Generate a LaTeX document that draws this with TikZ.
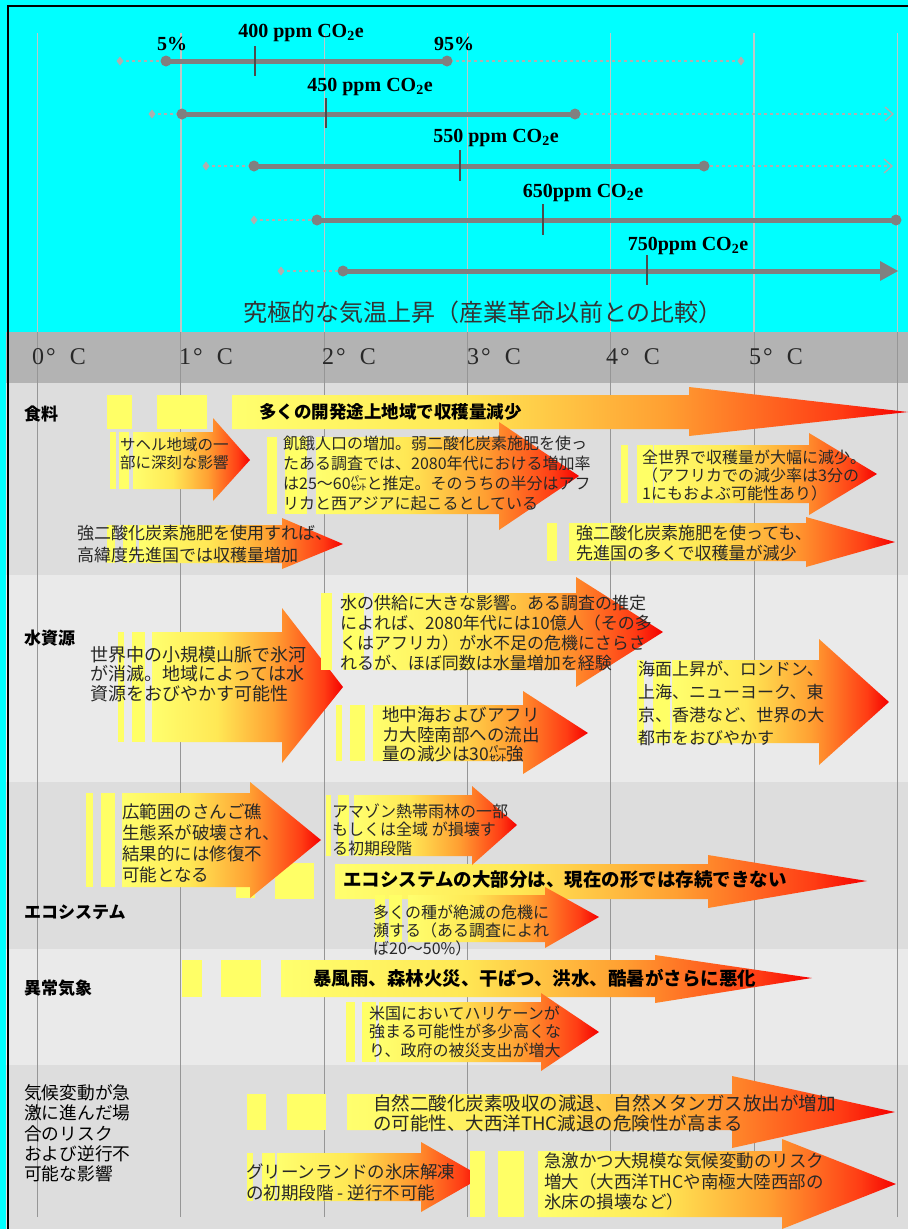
\documentclass[tikz,border=0pt]{standalone}
\usepackage{fontspec}
\setmainfont{Liberation Serif}
\newfontfamily\jp{Noto Sans CJK JP}
\definecolor{cy}{RGB}{0,255,255}
\definecolor{hdr}{RGB}{179,179,179}
\definecolor{secA}{RGB}{221,221,221}
\definecolor{secB}{RGB}{234,234,234}
\definecolor{gridT}{RGB}{190,200,200}
\definecolor{gridL}{RGB}{150,150,150}
\definecolor{barc}{RGB}{128,128,128}
\definecolor{dotc}{RGB}{175,175,175}
\definecolor{ylw}{RGB}{255,255,102}
\definecolor{fy}{RGB}{255,255,110}
\definecolor{fy2}{RGB}{255,232,85}
\definecolor{fo}{RGB}{255,160,50}
\definecolor{fr}{RGB}{255,60,20}
\definecolor{fred}{RGB}{245,0,0}
\definecolor{txt}{RGB}{40,40,40}
\pgfdeclarehorizontalshading{fire}{100bp}{color(0bp)=(fy); color(25bp)=(fy); color(42bp)=(fy2); color(57bp)=(fo); color(70bp)=(fr); color(75bp)=(fred); color(100bp)=(fred)}
\newcommand\ybar[4]{\fill[ylw] (#1,#2) rectangle (#3,#4);}
\newcommand\farrow[8]{\shade[shading=fire] (#1,#4) -- (#2,#4) -- (#2,#6) -- (#3,#8) -- (#2,#7) -- (#2,#5) -- (#1,#5) -- cycle;}
\newcommand\dia[2]{\fill[dotc] (#1-3.5,#2) -- (#1,#2-4.5) -- (#1+3.5,#2) -- (#1,#2+4.5) -- cycle;}
\newcommand\fs[2]{\jp\fontsize{#1}{#2}\selectfont}
\tikzset{
  jt/.style={anchor=west, inner sep=0pt, align=left, text=txt},
  cat/.style={anchor=west, inner sep=0pt, text=black, font=\jp\bfseries\fontsize{17}{19}\selectfont},
  ppm/.style={inner sep=0pt, text=black, font=\bfseries\fontsize{20}{22}\selectfont},
  deg/.style={anchor=west, inner sep=0pt, text=txt, font=\fontsize{24}{26}\selectfont},
  dotl/.style={draw=dotc, line width=2, dash pattern=on 3pt off 3pt},
  soll/.style={draw=barc, line width=5},
  tickl/.style={draw=black!70, line width=1.4}
}
\begin{document}
\begin{tikzpicture}[x=1pt,y=-1pt]
\useasboundingbox (0,0) rectangle (908,1229);
\fill[cy] (0,0) rectangle (908,1229);
% bands
\fill[hdr] (6,332) rectangle (908,383);
\fill[secA] (6,383) rectangle (908,575);
\fill[secB] (6,575) rectangle (908,782);
\fill[secA] (6,782) rectangle (908,949);
\fill[secB] (6,949) rectangle (908,1065);
\fill[secA] (6,1065) rectangle (908,1229);
% grid
\foreach \i in {0,...,6}{
  \draw[gridT, line width=1.3] ({37.6+143.3*\i},33) -- ({37.6+143.3*\i},332);
  \draw[gridL, line width=1] ({37.6+143.3*\i},332) -- ({37.6+143.3*\i},1217);
}
% frame
\draw[black, line width=2.5] (908,6) -- (8,6) -- (8,1229);

% ---- top panel ----
% 400
\draw[dotl] (120,61) -- (741,61);
\dia{120}{61}
\dia{741}{61}
\draw[soll] (166,61) -- (447,61);
\fill[barc] (166,61) circle (5.5) (447,61) circle (5.5);
\draw[tickl] (255,46) -- (255,76);
\node[ppm] (p400) at (301,33) {400 ppm CO\textsubscript{2}e};
\node[ppm] (p5) at (172,44) {5\%};
\node[ppm] (p95) at (454,44) {95\%};
% 450
\draw[dotl] (152,114) -- (890,114);
\draw[dotc, line width=1.3] (885,107) -- (893,114) -- (885,121);
\dia{152}{114}
\draw[soll] (182,114) -- (575,114);
\fill[barc] (182,114) circle (5.5) (575,114) circle (5.5);
\draw[tickl] (326,98) -- (326,128);
\node[ppm] (p450) at (370,87) {450 ppm CO\textsubscript{2}e};
% 550
\draw[dotl] (206,166) -- (889,166);
\draw[dotc, line width=1.3] (884,159) -- (892,166) -- (884,173);
\dia{206}{166}
\draw[soll] (254,166) -- (704,166);
\fill[barc] (254,166) circle (5.5) (704,166) circle (5.5);
\draw[tickl] (460,150) -- (460,181);
\node[ppm] (p550) at (496,138) {550 ppm CO\textsubscript{2}e};
% 650
\draw[dotl] (254,220) -- (317,220);
\dia{254}{220}
\draw[soll] (317,220) -- (896,220);
\fill[barc] (317,220) circle (5.5) (896,220) circle (5.5);
\draw[tickl] (543,204) -- (543,235);
\node[ppm] (p650) at (583,193) {650ppm CO\textsubscript{2}e};
% 750
\draw[dotl] (281,271) -- (343,271);
\dia{281}{271}
\draw[soll] (343,271) -- (882,271);
\fill[barc] (880,261) -- (898,271) -- (880,281) -- cycle;
\fill[barc] (343,271) circle (5.5);
\draw[tickl] (647,255) -- (647,285);
\node[ppm] (p750) at (688,246) {750ppm CO\textsubscript{2}e};
\node[text=black!80, inner sep=0pt, font=\fs{24}{26}] (cap) at (483,312) {究極的な気温上昇（産業革命以前との比較）};

% header labels
\node[deg] (d0) at (32,357) {0\hspace{2pt}°\hspace{14pt}C};
\node[deg] (d1) at (179,357) {1\hspace{2pt}°\hspace{14pt}C};
\node[deg] (d2) at (322,357) {2\hspace{2pt}°\hspace{14pt}C};
\node[deg] (d3) at (467,357) {3\hspace{2pt}°\hspace{14pt}C};
\node[deg] (d4) at (606,357) {4\hspace{2pt}°\hspace{14pt}C};
\node[deg] (d5) at (749,357) {5\hspace{2pt}°\hspace{14pt}C};

% ---- food ----
\ybar{107}{395}{132}{429}\ybar{157}{395}{207}{429}
\farrow{232}{689}{908}{395}{429}{387}{436}{412}
\ybar{110}{432}{116}{489}\ybar{119}{432}{129}{489}
\farrow{133}{213}{250}{432}{489}{418}{501}{460}
\ybar{267}{437}{277}{514}\ybar{285}{437}{307}{514}
\farrow{316}{499}{579}{437}{514}{422}{530}{476}
\ybar{621}{445}{628}{503}\ybar{637}{445}{653}{503}
\farrow{654}{809}{877}{445}{503}{433}{515}{474}
\ybar{107}{525}{115}{563}\ybar{123}{525}{136}{563}
\farrow{139}{282}{343}{525}{563}{518}{569}{544}
\ybar{547}{523}{557}{561}\ybar{569}{523}{601}{561}
\farrow{602}{806}{895}{523}{561}{517}{567}{542}
% ---- water ----
\ybar{118}{632}{124}{742}\ybar{132}{632}{145}{742}
\farrow{152}{282}{343}{632}{742}{608}{763}{687}
\ybar{321}{593}{332}{670}\ybar{343}{593}{364}{670}
\farrow{373}{576}{663}{593}{670}{577}{687}{632}
\ybar{336}{705}{342}{761}\ybar{350}{705}{365}{761}
\farrow{373}{523}{588}{705}{761}{691}{774}{733}
\ybar{637}{660}{644}{743}\ybar{653}{660}{670}{743}
\farrow{672}{819}{889}{660}{743}{639}{765}{702}
% ---- ecosystem ----
\ybar{236}{863}{255}{898}\ybar{275}{863}{314}{899}
\farrow{335}{708}{867}{864}{899}{855}{908}{881}
\ybar{86}{793}{93}{887}\ybar{101}{793}{115}{887}
\farrow{122}{250}{321}{793}{887}{782}{898}{840}
\ybar{326}{795}{331}{856}\ybar{338}{795}{349}{856}
\farrow{354}{472}{517}{795}{856}{786}{865}{825}
\ybar{375}{895}{385}{942}\ybar{389}{895}{402}{942}
\farrow{408}{545}{599}{895}{942}{887}{948}{917}
% ---- weather ----
\ybar{182}{960}{202}{997}\ybar{221}{960}{261}{997}
\farrow{281}{655}{812}{960}{997}{955}{1003}{978}
\ybar{346}{1002}{355}{1062}\ybar{362}{1002}{376}{1062}
\farrow{379}{541}{599}{1002}{1062}{993}{1071}{1032}
% ---- risk ----
\ybar{247}{1094}{266}{1130}\ybar{287}{1094}{326}{1130}
\farrow{347}{732}{895}{1094}{1130}{1076}{1148}{1112}
\ybar{247}{1153}{253}{1201}\ybar{262}{1153}{275}{1201}
\farrow{277}{421}{482}{1153}{1201}{1142}{1212}{1177}
\ybar{470}{1151}{485}{1217}\ybar{498}{1151}{524}{1217}
\farrow{538}{782}{896}{1151}{1217}{1139}{1229}{1184}

% ---- texts ----
\node[cat] (c1) at (24,414) {食料};
\node[cat] (c2) at (24,638) {水資源};
\node[cat] (c3) at (24,912) {エコシステム};
\node[cat] (c4) at (24,988) {異常気象};
\node[jt, text=black, font=\fs{17.7}{20.3}] (c5) at (24,1133.5) {気候変動が急\\激に進んだ場\\合のリスク\\および逆行不\\可能な影響};

\node[jt, text=black, font=\fs{17.5}{20}\bfseries] (ta1) at (259,412) {多くの開発途上地域で収穫量減少};
\node[jt, font=\fs{15.5}{17.5}] (ta2) at (120,453.5) {サヘル地域の一\\部に深刻な影響};
\node[jt, font=\fs{16}{19.7}] (ta3) at (283,473.5) {飢餓人口の増加。弱二酸化炭素施肥を使っ\\たある調査では、2080年代における増加率\\は25～60㌫と推定。そのうちの半分はアフ\\リカと西アジアに起こるとしている};
\node[jt, font=\fs{16}{18}] (ta4) at (642,475) {全世界で収穫量が大幅に減少。\\（アフリカでの減少率は3分の\\1にもおよぶ可能性あり）};
\node[jt, font=\fs{17}{21.5}] (ta5) at (77,544) {強二酸化炭素施肥を使用すれば、\\高緯度先進国では収穫量増加};
\node[jt, font=\fs{17}{20}] (ta6) at (576,543) {強二酸化炭素施肥を使っても、\\先進国の多くで収穫量が減少};

\node[jt, font=\fs{18}{19.5}] (tw1) at (90,674) {世界中の小規模山脈で氷河\\が消滅。地域によっては水\\資源をおびやかす可能性};
\node[jt, font=\fs{17}{20}] (tw2) at (340,633) {水の供給に大きな影響。ある調査の推定\\によれば、2080年代には10億人（その多\\くはアフリカ）が水不足の危機にさらさ\\れるが、ほぼ同数は水量増加を経験};
\node[jt, font=\fs{17.5}{19.5}] (tw3) at (382,734.5) {地中海およびアフリ\\カ大陸南部への流出\\量の減少は30㌫強};
\node[jt, font=\fs{17}{23}] (tw4) at (638,703.5) {海面上昇が、ロンドン、\\上海、ニューヨーク、東\\京、香港など、世界の大\\都市をおびやかす};

\node[jt, font=\fs{17.5}{21}] (te1) at (122,843.5) {広範囲のさんご礁\\生態系が破壊され、\\結果的には修復不\\可能となる};
\node[jt, font=\fs{16}{18.5}] (te2) at (332,829.5) {アマゾン熱帯雨林の一部\\もしくは全域 が損壊す\\る初期段階};
\node[jt, text=black, font=\fs{18.5}{20}\bfseries] (te3) at (343,880) {エコシステムの大部分は、現在の形では存続できない};
\node[jt, font=\fs{16}{18}] (te4) at (373,930) {多くの種が絶滅の危機に\\瀕する（ある調査によれ\\ば20～50\%）};

\node[jt, text=black, font=\fs{18.5}{20}\bfseries] (tx1) at (313,978) {暴風雨、森林火災、干ばつ、洪水、酷暑がさらに悪化};
\node[jt, font=\fs{16}{18.5}] (tx2) at (369,1031.5) {米国においてハリケーンが\\強まる可能性が多少高くな\\り、政府の被災支出が増大};

\node[jt, font=\fs{18.5}{20}] (tr1) at (373,1113) {自然二酸化炭素吸収の減退、自然メタンガス放出が増加\\の可能性、大西洋THC減退の危険性が高まる};
\node[jt, font=\fs{17.5}{21}] (tr2) at (246,1182.5) {グリーンランドの氷床解凍\\の初期段階 - 逆行不可能};
\node[jt, font=\fs{17.5}{20.5}] (tr3) at (544,1181.5) {急激かつ大規模な気候変動のリスク\\増大（大西洋THCや南極大陸西部の\\氷床の損壊など）};
\end{tikzpicture}
\end{document}
